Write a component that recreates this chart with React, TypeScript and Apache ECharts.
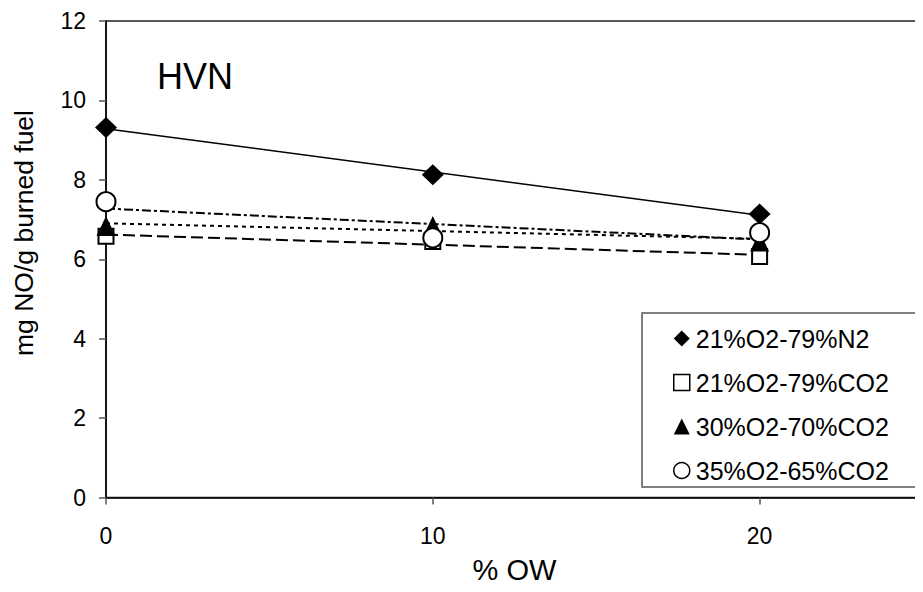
import React, { useEffect, useRef } from "react";
import * as echarts from "echarts";

const xValues = [0, 10, 20];
const seriesNames = ["21%O2-79%N2", "21%O2-79%CO2", "30%O2-70%CO2", "35%O2-65%CO2"];
const n2_21 = [9.32, 8.13, 7.14];
const co2_21 = [6.58, 6.45, 6.07];
const co2_30 = [6.84, 6.84, 6.45];
const co2_35 = [7.45, 6.54, 6.67];
const xTicks = [0, 10, 20];
const yTicks = [0, 2, 4, 6, 8, 10, 12];

const FONT = "'Liberation Sans', Arial, sans-serif";

function trend(xs: number[], ys: number[]): number[][] {
  const n = xs.length;
  const mx = xs.reduce((a, b) => a + b, 0) / n;
  const my = ys.reduce((a, b) => a + b, 0) / n;
  let num = 0;
  let den = 0;
  for (let i = 0; i < n; i++) {
    num += (xs[i] - mx) * (ys[i] - my);
    den += (xs[i] - mx) * (xs[i] - mx);
  }
  const slope = num / den;
  const x0 = xs[0];
  const x1 = xs[n - 1];
  return [
    [x0, my + slope * (x0 - mx)],
    [x1, my + slope * (x1 - mx)],
  ];
}

export default function App() {
  const ref = useRef<HTMLDivElement>(null);
  useEffect(() => {
    if (!ref.current) return;
    const chart = echarts.init(ref.current, undefined, { renderer: "svg" });
    const pts = (ys: number[]) => xValues.map((x, i) => [x, ys[i]]);
    const dataSets = [n2_21, co2_21, co2_30, co2_35];
    const lineTypes: any[] = ["solid", [12, 5], [4, 4], [9, 3, 3, 3]];
    const lineWidths = [1.5, 2, 2, 2];
    const symbols = ["diamond", "rect", "triangle", "circle"];
    const sizes: any[] = [[22, 21], [15, 15], [19, 20], [19, 19]];
    const fills = ["#000", "#fff", "#000", "#fff"];

    const trendSeries = dataSets.map((ys, i) => ({
      type: "line",
      name: "trend" + i,
      data: trend(xValues, ys),
      showSymbol: false,
      symbol: "none",
      lineStyle: { color: "#000", width: lineWidths[i], type: lineTypes[i] },
      z: 1,
      silent: true,
    }));
    const pointSeries = dataSets.map((ys, i) => ({
      type: "scatter",
      name: seriesNames[i],
      data: pts(ys),
      symbol: symbols[i],
      symbolSize: sizes[i],
      clip: false,
      itemStyle: {
        color: fills[i],
        borderColor: "#000",
        borderWidth: fills[i] === "#fff" ? 2 : 0,
        opacity: 1,
      },
      z: 3 + i,
    }));

    chart.setOption({
      animation: false,
      backgroundColor: "#fff",
      grid: {
        left: 106,
        top: 21,
        width: 822,
        height: 476.5,
        show: true,
        borderColor: "#222",
        borderWidth: 1.5,
        backgroundColor: "transparent",
      },
      xAxis: {
        type: "value",
        min: 0,
        max: 25,
        interval: 10,
        name: "% OW",
        nameLocation: "middle",
        nameGap: 58,
        nameTextStyle: { fontFamily: FONT, fontSize: 29, color: "#000" },
        axisLine: { lineStyle: { color: "#000", width: 1.5 } },
        axisTick: { length: 7, lineStyle: { color: "#555", width: 1.5 } },
        axisLabel: {
          fontFamily: FONT,
          fontSize: 23,
          color: "#000",
          margin: 27,
          showMaxLabel: false,
          formatter: (v: number) => (xTicks.includes(v) ? String(v) : ""),
        },
        splitLine: { show: false },
      },
      yAxis: {
        type: "value",
        min: yTicks[0],
        max: yTicks[yTicks.length - 1],
        interval: 2,
        axisLine: { show: true, lineStyle: { color: "#000", width: 1.5 } },
        axisTick: { show: true, length: 7, lineStyle: { color: "#555", width: 1.5 } },
        axisLabel: { fontFamily: FONT, fontSize: 23, color: "#000", margin: 20 },
        splitLine: { show: false },
      },
      legend: {
        orient: "vertical",
        left: 642,
        top: 313,
        padding: [12, 27, 3, 31],
        itemGap: 17,
        itemWidth: 16,
        itemHeight: 16,
        backgroundColor: "#fff",
        borderColor: "#555",
        borderWidth: 1.5,
        textStyle: { fontFamily: FONT, fontSize: 25, color: "#000", lineHeight: 27, padding: [0, 0, 0, 1] },
        data: seriesNames.map((n, i) => ({
          name: n,
          icon: symbols[i],
          itemStyle: {
            color: fills[i],
            borderColor: "#000",
            borderWidth: fills[i] === "#fff" ? 1.5 : 0,
          },
        })),
      },
      graphic: [
        {
          type: "text",
          left: 157,
          top: 58,
          style: { text: "HVN", fontFamily: FONT, fontSize: 36, fill: "#000" },
        },
        {
          type: "text",
          x: 24,
          y: 233,
          rotation: Math.PI / 2,
          style: {
            text: "mg NO/g burned fuel",
            fontFamily: FONT,
            fontSize: 26.5,
            fill: "#000",
            align: "center",
            verticalAlign: "middle",
          },
        },
      ],
      series: [...trendSeries, ...pointSeries],
    });
    return () => chart.dispose();
  }, []);
  return <div ref={ref} style={{ width: 923, height: 592, margin: -8 }} />;
}
